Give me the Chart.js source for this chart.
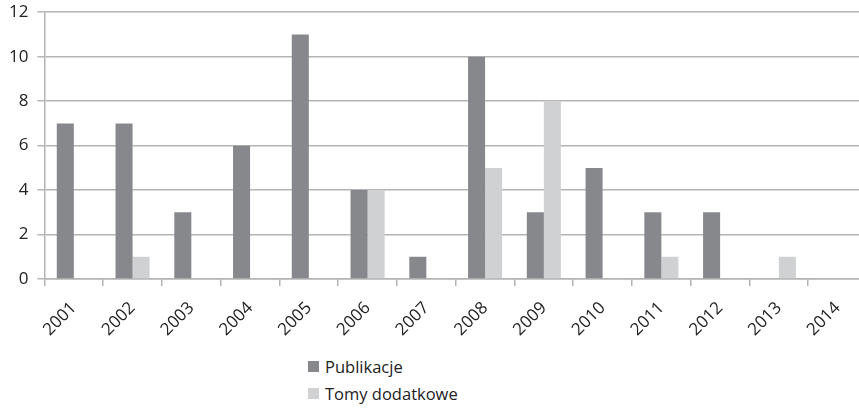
<!DOCTYPE html>
<html>
<head>
<meta charset="utf-8">
<script src="https://cdn.jsdelivr.net/npm/chart.js@4"></script>
<style>
  html, body { margin: 0; padding: 0; background: #fff; overflow: hidden; }
  #wrap { position: absolute; left: 0; top: -7px; width: 868px; height: 359px; }
  #legend { position: absolute; left: 308px; top: 353px; font-family: "Open Sans", sans-serif; font-size: 16.5px; color: #222; }
  .item { display: flex; align-items: center; height: 27px; }
  .box { width: 11px; height: 11px; margin-right: 6px; }
</style>
</head>
<body>
<div id="wrap"><canvas id="chart"></canvas></div>
<div id="legend"></div>
<script>
const years = ["2001", "2002", "2003", "2004", "2005", "2006", "2007", "2008", "2009", "2010", "2011", "2012", "2013", "2014"];
const publikacje = [7, 7, 3, 6, 11, 4, 1, 10, 3, 5, 3, 3, 0, 0];
const tomyDodatkowe = [0, 1, 0, 0, 0, 4, 0, 5, 8, 0, 1, 0, 1, 0];

const gridColor = "#b4b4b4";
const tickFont = { family: "Open Sans", size: 17 };

const chart = new Chart(document.getElementById("chart"), {
  type: "bar",
  data: {
    labels: years,
    datasets: [
      { label: "Publikacje", data: publikacje, backgroundColor: "#87888c" },
      { label: "Tomy dodatkowe", data: tomyDodatkowe, backgroundColor: "#d0d1d3" },
    ],
  },
  options: {
    responsive: true,
    maintainAspectRatio: false,
    animation: false,
    layout: { padding: { top: 4, right: 1, left: 0, bottom: 0 } },
    plugins: { legend: { display: false }, tooltip: { enabled: false } },
    datasets: { bar: { categoryPercentage: 0.58, barPercentage: 1 } },
    scales: {
      x: {
        ticks: { color: "#222", font: tickFont, minRotation: 45, maxRotation: 45, padding: 12 },
        grid: { color: gridColor, lineWidth: 1.5, drawOnChartArea: false, tickLength: 7 },
        border: { color: gridColor, width: 1.5 },
      },
      y: {
        min: 0,
        max: 12,
        ticks: { stepSize: 2, color: "#222", font: tickFont, padding: 9 },
        grid: { color: gridColor, lineWidth: 1.5, tickLength: 7 },
        border: { color: gridColor, width: 1.5 },
      },
    },
  },
});

const legendEl = document.getElementById("legend");
for (const ds of chart.data.datasets) {
  const item = document.createElement("div");
  item.className = "item";
  const box = document.createElement("span");
  box.className = "box";
  box.style.background = ds.backgroundColor;
  const text = document.createElement("span");
  text.innerText = ds.label;
  item.appendChild(box);
  item.appendChild(text);
  legendEl.appendChild(item);
}
</script>
</body>
</html>
